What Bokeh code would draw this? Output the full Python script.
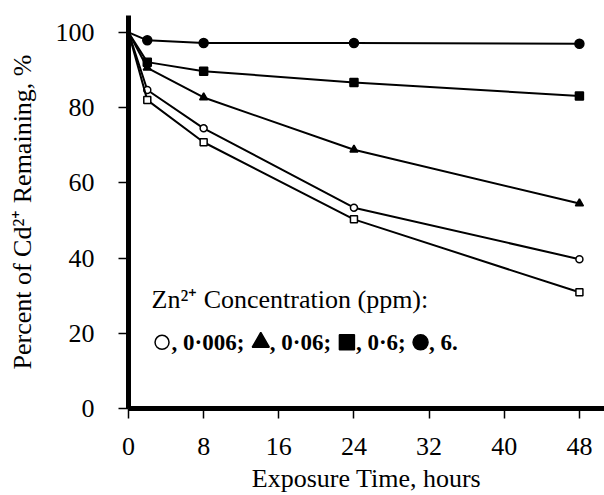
from bokeh.plotting import figure
from bokeh.models import Range1d, FixedTicker, Label
from bokeh.embed import file_html
from bokeh.resources import INLINE

# ---- data ----
hours = [0, 2, 8, 24, 48]
zn_6 = [100, 97.9, 97.2, 97.2, 97.0]        # filled circles
zn_0_6 = [100, 92.1, 89.7, 86.7, 83.1]      # filled squares
zn_0_06 = [100, 90.6, 82.7, 68.8, 54.5]     # filled triangles
zn_0_006 = [100, 84.7, 74.5, 53.4, 39.7]    # open circles
control = [100, 82.0, 70.8, 50.3, 30.9]     # open squares
x_ticks = [0, 8, 16, 24, 32, 40, 48]
y_ticks = [0, 20, 40, 60, 80, 100]
legend_labels = [", 0\u00b7006;", ", 0\u00b706;", ", 0\u00b76;", ", 6."]

FONT = "'Liberation Serif', 'Times New Roman', serif"
FS = "26px"

p = figure(width=604, height=495, output_backend="svg", toolbar_location=None,
           x_range=Range1d(0, 50.67), y_range=Range1d(0, 104.5),
           min_border_left=128, min_border_right=0, min_border_top=15,
           min_border_bottom=85)
p.outline_line_color = None
p.grid.visible = False
p.background_fill_color = "white"
p.border_fill_color = "white"

series = [
    (zn_0_006, "circle", "white", 7),
    (zn_0_06, "triangle", "black", 8),
    (zn_0_6, "square", "black", 8),
    (zn_6, "circle", "black", 9),
    (control, "square", "white", 7),
]
for ys, marker, fill, size in series:
    p.line(hours, ys, line_color="black", line_width=2)
    p.scatter(hours[1:], ys[1:], marker=marker, size=size, fill_color=fill,
              line_color="black", line_width=1.5)

for ax in (p.xaxis[0], p.yaxis[0]):
    ax.axis_line_width = 5
    ax.axis_line_color = "black"
    ax.major_tick_line_width = 1.5
    ax.major_tick_out = 10
    ax.major_tick_in = 0
    ax.minor_tick_line_color = None
    ax.major_label_text_font = FONT
    ax.major_label_text_font_size = FS
    ax.major_label_text_color = "black"
    ax.axis_label_text_font = FONT
    ax.axis_label_text_font_size = FS
    ax.axis_label_text_font_style = "normal"
    ax.axis_label_text_color = "black"

p.xaxis.ticker = FixedTicker(ticks=x_ticks)
p.yaxis.ticker = FixedTicker(ticks=y_ticks)
p.xaxis.axis_label = "Exposure Time, hours"
p.yaxis.axis_label = "Percent of Cd\u00b2\u207a Remaining, %"
p.xaxis.major_label_standoff = 19
p.xaxis.axis_label_standoff = 6
p.yaxis.major_label_standoff = 24
p.yaxis.axis_label_standoff = 16

# ---- in-plot key ----
p.add_layout(Label(x=2.45, y=29.1, text="Zn\u00b2\u207a Concentration (ppm):",
                   text_font=FONT, text_font_size=FS, text_baseline="middle",
                   text_color="black"))
key_sym_x = [3.57, 14.08, 23.25, 31.09]
key_txt_x = [4.59, 15.04, 24.21, 32.0]
key_y = 17.6
key_sizes = [14, 17, 15, 15]
for (ys, marker, fill, _), sx, tx, lab, sz in zip(series[:4], key_sym_x, key_txt_x,
                                                 legend_labels, key_sizes):
    p.scatter([sx], [key_y], marker=marker, size=sz, fill_color=fill,
              line_color="black", line_width=1.5)
    p.add_layout(Label(x=tx, y=key_y, text=lab, text_font=FONT,
                       text_font_size="23px", text_font_style="bold",
                       text_baseline="middle", text_color="black"))

open("out.html", "w").write(file_html(p, INLINE))
